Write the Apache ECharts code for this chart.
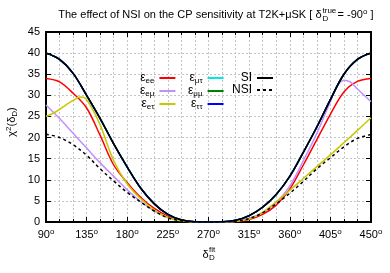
<!DOCTYPE html>
<html><head><meta charset="utf-8">
<script src="https://cdn.jsdelivr.net/npm/echarts@6/dist/echarts.min.js"></script>
<style>html,body{margin:0;padding:0;background:#fff}#c{width:390px;height:273px}</style>
</head><body><div id="c"></div>
<script>
// ---- data ----
const deg = [90,105,120,135,150,165,180,195,210,225,240,255,270,285,300,315,330,345,360,375,390,405,420,435,450];
const siVals  = [40,38.5,35.2,30,24.5,18.5,13,8,4.3,1.8,0.5,0.05,0,0.05,0.4,1.5,3.5,6.5,10.8,16.5,22.5,29,35,38.5,40];
const eeVals  = [34,33.2,30.5,27,20.5,13.5,9.3,5.8,3.2,1.4,0.4,0.05,0,0,0.1,0.6,1.8,4.0,7.8,13.5,19.5,25.5,30.8,33.3,34.0];
const emuDeg  = [90,105,120,135,150,165,180,195,210,225,240,255,270,285,300,315,330,345,360,375,390,405,412,420,427,435,450];
const emuVals = [27.7,24.5,21,17.5,14,10.8,7.6,4.8,2.6,1.1,0.3,0.05,0,0,0.2,0.9,2.2,4.6,8.5,14.5,21,28.5,32,33.6,33.2,31.5,28.5];
const etauDeg = [90,100,110,120,128,133,140,150,165,180,195,210,225,240,255,270,285,300,315,330,345,360,375,390,405,420,435,450];
const etauVals= [25,26,27.4,28.8,29.6,29.4,27.3,23,14.5,9,5.5,2.8,1.0,0.3,0,0,0,0.2,0.7,2.3,4.8,7.5,10.3,13.1,15.9,18.8,21.7,24.7];
const mutauVals = [40,38.5,35.2,30,24.5,18.5,13,8,4.3,1.8,0.5,0.05,0,0.05,0.4,1.5,3.5,6.5,10.8,16.5,22.5,29,35,38.5,40];
const mumuVals  = [40,38.5,35.2,30,24.5,18.5,13,8,4.3,1.8,0.5,0.05,0,0.05,0.4,1.5,3.5,6.5,10.8,16.5,22.5,29,35,38.5,40];
const tautauVals= [40,38.5,35.2,30,24.5,18.5,13,8,4.3,1.8,0.5,0.05,0,0.05,0.4,1.5,3.5,6.5,10.8,16.5,22.5,29,35,38.5,40];
const nsiVals = [20.8,20.0,18.3,15.8,12.6,9.7,7.0,4.7,2.6,1.0,0.25,0,0,0,0.2,0.8,2.2,4.3,6.8,9.6,12.6,15.2,17.8,19.8,20.7];
const xTickLabels = [90,135,180,225,270,315,360,405,450];
const yTickLabels = [0,5,10,15,20,25,30,35,40,45];

function pairs(xs, ys){ return xs.map((x,i)=>[x, ys[i]]); }

const FONT = 'Liberation Sans, Arial, sans-serif';
const chart = echarts.init(document.getElementById('c'), null, {renderer:'canvas'});

const gridLine = {show:true, lineStyle:{color:'#c4c4c4', type:[2,2], width:1}};
const axLine = {show:true, onZero:false, lineStyle:{color:'#000', width:2}};
function xAxisDef(pos, labels){
  return {type:'value', position:pos, min:90, max:450, interval:45,
    axisLine:axLine, splitLine: labels?gridLine:{show:false},
    minorTick:{show:true, splitNumber:3, length:3, lineStyle:{color:'#000'}},
    minorSplitLine: labels?gridLine:{show:false},
    axisTick:{show:true, inside:true, length:5, lineStyle:{color:'#000'}},
    axisLabel:{show:labels, margin:6, color:'#000', fontFamily:FONT,
      formatter: v => xTickLabels.includes(v) ? '{n|'+v+'}{o|o}' : '',
      rich:{n:{fontSize:11, lineHeight:14, fontFamily:FONT, color:'#000'},
            o:{fontSize:8, lineHeight:8, verticalAlign:'top', fontFamily:FONT, color:'#000'}}}};
}
function yAxisDef(pos, labels){
  return {type:'value', position:pos, min:0, max:45, interval:5,
    axisLine:axLine, splitLine: labels?gridLine:{show:false},
    axisTick:{show:true, inside:true, length:5, lineStyle:{color:'#000'}},
    axisLabel:{show:labels, margin:6, color:'#000', fontSize:11, fontFamily:FONT,
      formatter: v => yTickLabels.includes(v) ? String(v) : ''}};
}
function line(name, data, color, width, dashed, z){
  return {name, type:'line', data, symbol:'none', smooth:0.35, z:z||2,
    lineStyle:{color, width, type: dashed?[3,3]:'solid'}, itemStyle:{color}};
}
const richLeg = {
  e:{fontSize:12, lineHeight:14, fontFamily:FONT, color:'#000'},
  s:{fontSize:8, lineHeight:8, verticalAlign:'bottom', fontFamily:FONT, color:'#000'},
  t:{fontSize:12, lineHeight:14, fontFamily:FONT, color:'#000'}
};
function legFmt(n){ return n[0]==='ε' ? '{e|ε}{s|'+n.slice(1)+'}' : '{t|'+n+'}'; }
function legend(data, left, top){
  return {data, left, top, orient:'vertical', align:'right', itemWidth:16, itemHeight:8, itemGap:0,
    itemStyle:{opacity:0, borderWidth:0},
    formatter: legFmt, textStyle:{rich:richLeg, fontFamily:FONT, color:'#000'}, selectedMode:false};
}
const subR = {
  a:{fontSize:11, lineHeight:14, fontFamily:FONT, color:'#000'},
  sp:{fontSize:8, lineHeight:8, verticalAlign:'top', fontFamily:FONT, color:'#000'},
  sb:{fontSize:8, lineHeight:8, verticalAlign:'bottom', fontFamily:FONT, color:'#000'}
};

chart.setOption({
  animation:false,
  grid:{left:46, right:19, top:32, bottom:51, containLabel:false},
  xAxis:[xAxisDef('bottom', true), xAxisDef('top', false)],
  yAxis:[yAxisDef('left', true), yAxisDef('right', false)],
  legend:[legend(['εee','εeμ','εeτ'],135,67), legend(['εμτ','εμμ','εττ'],183,67), legend(['SI','NSI'],227,67)],
  series:[
    line('εee', pairs(deg, eeVals), '#ff0000', 1.5),
    line('εeμ', pairs(emuDeg, emuVals), '#c090ff', 1.5),
    line('εeτ', pairs(etauDeg, etauVals), '#c8c800', 1.5),
    line('εμτ', pairs(deg, mutauVals), '#00e8e8', 1.5),
    line('εμμ', pairs(deg, mumuVals), '#008000', 1.5),
    line('εττ', pairs(deg, tautauVals), '#0000ff', 1.5),
    line('SI', pairs(deg, siVals), '#000000', 1.6, false, 3),
    line('NSI', pairs(deg, nsiVals), '#000000', 1.5, true, 3)
  ],
  graphic:[
    {type:'text', x:321.5, y:15, style:{text:'The effect of NSI on the CP sensitivity at T2K+μSK [ δ', fontSize:11, fontFamily:FONT, fill:'#000', align:'right', verticalAlign:'middle'}},
    {type:'text', x:322.5, y:11, style:{text:'true', fontSize:8, fontFamily:FONT, fill:'#000', align:'left', verticalAlign:'middle'}},
    {type:'text', x:322.5, y:18.5, style:{text:'D', fontSize:8, fontFamily:FONT, fill:'#000', align:'left', verticalAlign:'middle'}},
    {type:'text', x:337.5, y:15, style:{text:'{a|= -90}{sp|o}{a| ]}', rich:subR, align:'left', verticalAlign:'middle'}},
    {type:'text', x:12, y:122, rotation:Math.PI/2, style:{text:'{a|χ}{sp|2}{a|(δ}{sb|D}{a|)}', rich:subR, align:'center', verticalAlign:'middle'}},
    {type:'text', x:208.5, y:255, style:{text:'δ', fontSize:11, fontFamily:FONT, fill:'#000', align:'right', verticalAlign:'middle'}},
    {type:'text', x:209, y:250, style:{text:'fit', fontSize:8, fontFamily:FONT, fill:'#000', align:'left', verticalAlign:'middle'}},
    {type:'text', x:209, y:258, style:{text:'D', fontSize:8, fontFamily:FONT, fill:'#000', align:'left', verticalAlign:'middle'}}
  ]
});
</script></body></html>
